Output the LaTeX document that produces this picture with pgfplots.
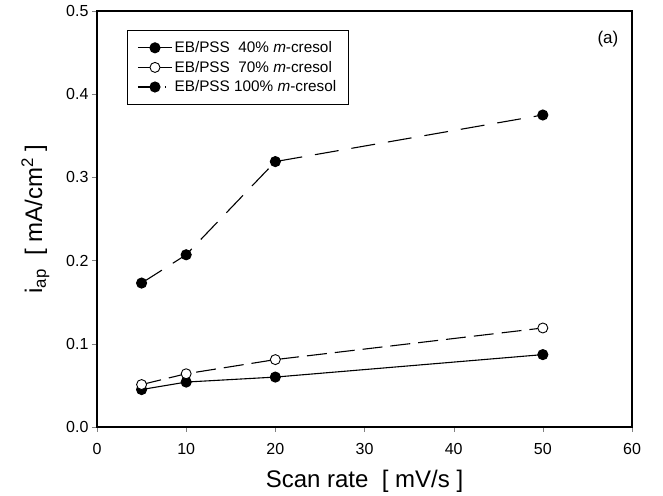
\documentclass[border=0pt]{standalone}
\usepackage{fontspec}
\setmainfont{Liberation Sans}
\usepackage{pgfplots}
\pgfplotsset{compat=1.18}
\begin{document}
\begin{tikzpicture}
\begin{axis}[
    scale only axis,
    width=535pt, height=416pt,
    xmin=0, xmax=60, ymin=0, ymax=0.5,
    xtick={0,10,...,60}, ytick={0,0.1,...,0.5},
    tick align=outside, tick pos=left,
    major tick length=5pt,
    axis line style={line width=1.4pt},
    /pgf/number format/assume math mode=true,
    yticklabel style={/pgf/number format/.cd, fixed, fixed zerofill, precision=1},
    ticklabel style={font=\fontsize{16}{18}\selectfont},
    xticklabel style={yshift=-8pt},
    xlabel={Scan rate\ \ [ mV/s ]},
    ylabel={i\textsubscript{ap}\ \ [ mA/cm\textsuperscript{2} ]},
    label style={font=\fontsize{24}{27}\selectfont},
    xlabel style={yshift=-8pt},
    ylabel style={yshift=10pt},
    legend style={at={(0.056,0.954)}, anchor=north west, draw=black, line width=0.8pt,
        font=\fontsize{15.3}{17}\selectfont, row sep=3pt, inner xsep=10pt, inner ysep=9pt,
        nodes={inner sep=2pt}},
    legend cell align=left,
    legend image code/.code={
        \draw[mark repeat=2,mark phase=2,#1] plot coordinates {(0cm,0cm) (0.6cm,0cm) (1.2cm,0cm)};},
    every axis plot/.append style={line width=1.1pt, mark=*, mark size=5pt},
]
\addplot[black, mark options={fill=black, solid}] coordinates {
    (5,0.045) (10,0.054) (20,0.060) (50,0.087)
};
\addlegendentry{EB/PSS\ \ 40\% \emph{m}-cresol}
\addplot[black, dash pattern=on 20pt off 8pt, mark options={fill=white, solid, line width=0.9pt},
    legend image post style={solid}] coordinates {
    (5,0.051) (10,0.064) (20,0.081) (50,0.119)
};
\addlegendentry{EB/PSS\ \ 70\% \emph{m}-cresol}
\addplot[black, dash pattern=on 24pt off 13pt, mark options={fill=black, solid},
    legend image post style={dash pattern=on 13pt off 14pt on 1.5pt off 10pt}] coordinates {
    (5,0.173) (10,0.207) (20,0.319) (50,0.375)
};
\addlegendentry{EB/PSS 100\% \emph{m}-cresol}
\node[font=\fontsize{17}{19}\selectfont] at (rel axis cs:0.955,0.932) {(a)};
\end{axis}
\pgfresetboundingbox
\useasboundingbox ([xshift=-97pt,yshift=-69pt]current axis.south west) rectangle ([xshift=31pt,yshift=11pt]current axis.north east);
\end{tikzpicture}
\end{document}
